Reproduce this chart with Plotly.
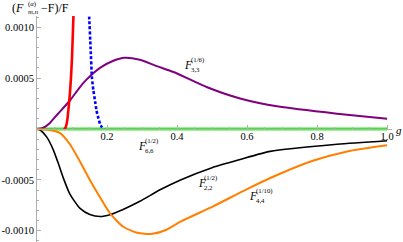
import plotly.graph_objects as go

# ---- data ----
g_purple = [0, 0.017, 0.037, 0.06, 0.094, 0.12, 0.14, 0.18, 0.218, 0.25, 0.294, 0.34, 0.39, 0.486, 0.58, 0.69, 0.857, 1.0]
v_purple = [0, 0.00001, 0.00006, 0.00015, 0.00028, 0.0004, 0.00048, 0.0006, 0.00067, 0.0007, 0.00068, 0.00062, 0.00056, 0.00041, 0.0003, 0.00022, 0.00015, 0.0001]

g_red = [0.076, 0.080, 0.084, 0.087, 0.090, 0.094, 0.097, 0.100, 0.104, 0.107]
v_red = [0, 0.000005, 0.00004, 0.0001, 0.0002, 0.00035, 0.0005, 0.0007, 0.0011, 0.0014]

g_blue = [0.143, 0.149, 0.153, 0.157, 0.161, 0.166, 0.170, 0.175, 0.180, 0.185, 0.192]
v_blue = [0.0014, 0.0011, 0.0008, 0.0005, 0.00038, 0.00027, 0.00018, 0.00011, 0.00005, 0.00002, 0]

g_green = [0, 1.0]
v_green = [0, 0]

g_black = [0, 0.009, 0.028, 0.046, 0.06, 0.075, 0.094, 0.123, 0.151, 0.18, 0.21, 0.246, 0.294, 0.35, 0.41, 0.5, 0.58, 0.666, 0.857, 1.0]
v_black = [0, -0.00001, -0.00008, -0.0002, -0.00033, -0.00048, -0.00064, -0.00078, -0.00084, -0.00086, -0.00084, -0.00079, -0.00071, -0.0006, -0.0005, -0.00038, -0.0003, -0.00022, -0.00015, -0.000115]

g_orange = [0, 0.037, 0.066, 0.094, 0.118, 0.151, 0.18, 0.209, 0.246, 0.286, 0.33, 0.37, 0.41, 0.503, 0.6, 0.694, 0.79, 0.886, 1.0]
v_orange = [0, -0.00001, -0.00004, -0.00015, -0.00029, -0.0005, -0.00067, -0.00083, -0.00096, -0.00102, -0.00103, -0.00099, -0.00091, -0.00076, -0.00059, -0.00044, -0.00031, -0.00022, -0.00016]

x_tickvals = [0.2, 0.4, 0.6, 0.8, 1.0]
x_ticktext = ["0.2", "0.4", "0.6", "0.8", "1.0"]
y_tickvals = [0.0010, 0.0005, -0.0005, -0.0010]
y_ticktext = ["0.0010", "0.0005", "-0.0005", "-0.0010"]

YMIN, YMAX = -0.00111, 0.00111
XMIN, XMAX = 0, 1.014

W, H = 403, 242
ML, MR, MT, MB = 37, 11, 16, 0
FONT = "Liberation Serif, Times New Roman, serif"

fig = go.Figure()

def add_line(x, y, color, width, dash="solid", shape="spline", smoothing=0.6):
    fig.add_trace(go.Scatter(x=x, y=y, mode="lines",
                             line=dict(color=color, width=width, dash=dash, shape=shape, smoothing=smoothing),
                             hoverinfo="skip", showlegend=False))

add_line(g_green, v_green, "#33ee22", 3.2, shape="linear")
add_line(g_purple, v_purple, "#800080", 2)
add_line(g_black, v_black, "#000000", 1.6)
add_line(g_orange, v_orange, "#ff8000", 2)
add_line(g_red, v_red, "#ff0000", 2.6, smoothing=0.4)
add_line(g_blue, v_blue, "#0000ff", 2.6, dash="3px,2px", smoothing=0.4)

# ---- text ----
pw = W - ML - MR
ph = H - MT - MB

def px2paper(px, py):
    return (px - ML) / pw, (H - MB - py) / ph

def txt(px, py, text, size, xanchor="left"):
    x, y = px2paper(px, py)
    fig.add_annotation(x=x, y=y, xref="paper", yref="paper", text=text, showarrow=False,
                       xanchor=xanchor, yanchor="middle", borderpad=0,
                       font=dict(family=FONT, size=size, color="black"))

def flabel(px, py, sup, sub, main="<i>F</i>", main_w=6.5):
    txt(px, py, main, 11.5)
    txt(px + main_w, py - 5, sup, 6.8)
    txt(px + main_w, py + 4.8, sub, 6.8)

# y axis title-like label at the top-left
txt(11, 8, "(<i>F</i>", 12)
txt(26.5, 3.5, "(<i>α</i>)", 6.8)
txt(26.5, 12, "<i>m</i>,<i>n</i>", 6.8)
txt(40, 8, "−F)/F", 12)

flabel(183, 65, "(1/6)", "3,3")
flabel(137, 145.5, "(1/2)", "6,6")
flabel(196.5, 183, "(1/2)", "2,2")
flabel(248, 196, "(1/10)", "4,4")

txt(399, 130, "<i>g</i>", 11, xanchor="center")

axis_col = "#b0b0b0"
fig.update_layout(
    width=W, height=H,
    margin=dict(l=ML, r=MR, t=MT, b=MB, pad=0, autoexpand=False),
    paper_bgcolor="white", plot_bgcolor="white",
    font=dict(family=FONT, size=10.5, color="black"),
    xaxis=dict(range=[XMIN, XMAX], anchor="free", position=(0 - YMIN) / (YMAX - YMIN),
               automargin=False, ticklabelstandoff=-3,
               showgrid=False, zeroline=False, showline=True, linecolor=axis_col, linewidth=1,
               tickvals=x_tickvals, ticktext=x_ticktext, ticks="inside", ticklen=4,
               tickcolor=axis_col, tickfont=dict(family=FONT, size=10.5),
               minor=dict(dtick=0.05, ticks="inside", ticklen=2, tickcolor=axis_col, showgrid=False)),
    yaxis=dict(range=[YMIN, YMAX], automargin=False, showgrid=False, zeroline=False, showline=True,
               linecolor=axis_col, linewidth=1,
               tickvals=y_tickvals, ticktext=y_ticktext, ticks="inside", ticklen=4,
               tickcolor=axis_col, tickfont=dict(family=FONT, size=10.5),
               minor=dict(dtick=0.0001, ticks="inside", ticklen=2, tickcolor=axis_col, showgrid=False)),
)

fig.write_html("out.html", config={"displayModeBar": False},
               post_script="document.body.style.margin='0';document.body.style.padding='0';")
